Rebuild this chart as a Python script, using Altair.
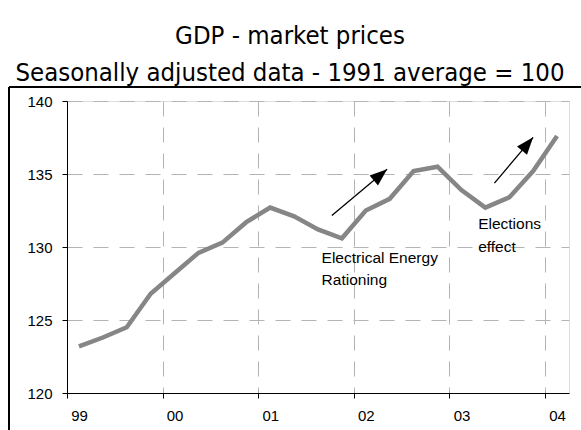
import altair as alt
import pandas as pd

# Quarterly GDP index, 1999 Q1 - 2004 Q1 (1991 average = 100)
quarters = [
    "1999Q1", "1999Q2", "1999Q3", "1999Q4",
    "2000Q1", "2000Q2", "2000Q3", "2000Q4",
    "2001Q1", "2001Q2", "2001Q3", "2001Q4",
    "2002Q1", "2002Q2", "2002Q3", "2002Q4",
    "2003Q1", "2003Q2", "2003Q3", "2003Q4",
    "2004Q1",
]
gdp = [
    123.2, 123.8, 124.5, 126.8,
    128.2, 129.6, 130.3, 131.7,
    132.7, 132.1, 131.2, 130.6,
    132.5, 133.3, 135.2, 135.5,
    133.9, 132.7, 133.4, 135.2,
    137.6,
]
year_labels = ["99", "00", "01", "02", "03", "04"]
year_starts = [-0.5, 3.5, 7.5, 11.5, 15.5, 19.5]

# Annotations (x in quarter index, y in index points)
note_text = ["Electrical Energy\nRationing", "Elections\neffect"]
note_x = [10.15, 16.7]
note_y = [128.92, 131.23]

arrow_x = [10.58, 17.38]
arrow_y = [132.16, 134.38]
arrow_x2 = [12.89, 19.0]
arrow_y2 = [135.32, 137.51]
arrow_angle = [50, 40]

series = pd.DataFrame({"idx": list(range(len(quarters))), "quarter": quarters, "gdp": gdp})
notes = pd.DataFrame({"x": note_x, "y": note_y, "text": note_text})
arrows = pd.DataFrame({"x": arrow_x, "y": arrow_y, "x2": arrow_x2, "y2": arrow_y2, "ang": arrow_angle})

label_font = "Liberation Sans, Arial, sans-serif"
title_font = "Liberation Sans Narrow, DejaVu Sans Condensed, Arial Narrow, sans-serif"

label_expr = "['" + "','".join(year_labels) + "'][round((datum.value + 0.5) / 4)]"

x_scale = alt.Scale(domain=[-0.5, 20.5], nice=False, zero=False)
y_scale = alt.Scale(domain=[120, 140], nice=False, zero=False)

x_axis = alt.Axis(
    values=year_starts, labelExpr=label_expr, labelOffset=12, labelFlush=False,
    labelOverlap=False, title=None, grid=True, gridDash=[15, 11], gridColor="#b4b4b4",
    domainColor="black", tickColor="black", tickSize=5, labelPadding=10,
    labelFontSize=15, labelFont=label_font, labelColor="black",
)
y_axis = alt.Axis(
    values=[120, 125, 130, 135, 140], title=None, grid=True, gridDash=[15, 11],
    gridColor="#b4b4b4", domainColor="black", tickColor="black", tickSize=5,
    labelPadding=10, labelFontSize=15, labelFont=label_font, labelColor="black",
)

line = alt.Chart(series).mark_line(color="#868686", strokeWidth=4.5, strokeJoin="miter").encode(
    x=alt.X("idx:Q", scale=x_scale, axis=x_axis),
    y=alt.Y("gdp:Q", scale=y_scale, axis=y_axis),
)

shafts = alt.Chart(arrows).mark_rule(color="black", strokeWidth=1.3).encode(
    x=alt.X("x:Q", scale=x_scale), y=alt.Y("y:Q", scale=y_scale),
    x2="x2:Q", y2="y2:Q",
)

heads = alt.Chart(arrows).mark_point(
    shape="M0,0L0.75,2L-0.75,2Z", filled=True, color="black", opacity=1, size=300,
).encode(
    x=alt.X("x2:Q", scale=x_scale), y=alt.Y("y2:Q", scale=y_scale),
    angle=alt.Angle("ang:Q", scale=None),
)

labels = alt.Chart(notes).mark_text(
    align="left", baseline="alphabetic", lineBreak="\n", lineHeight=22.5,
    fontSize=15.5, font=label_font, color="black",
).encode(
    x=alt.X("x:Q", scale=x_scale), y=alt.Y("y:Q", scale=y_scale), text="text:N",
)

# Outer chart-area border (left and top edges)
frame_left = alt.Chart(series).mark_rule(color="black", strokeWidth=1.2).encode(
    x=alt.value(-58), y=alt.value(-14), y2=alt.value(340),
)
frame_top = alt.Chart(series).mark_rule(color="black", strokeWidth=1.2).encode(
    x=alt.value(-58), x2=alt.value(520), y=alt.value(-14),
)

chart = alt.layer(line, shafts, heads, labels, frame_left, frame_top).properties(
    width=502,
    height=292,
    padding={"left": 67, "top": 101, "right": 12, "bottom": 37},
    autosize=alt.AutoSizeParams(type="none"),
    title=alt.TitleParams(
        text=["GDP - market prices", "Seasonally adjusted data - 1991 average = 100"],
        fontSize=25.5, lineHeight=37, font=title_font, fontWeight="normal",
        color="black", anchor="middle", dx=-28, offset=0,
    ),
).configure_view(stroke="#888888", strokeWidth=1).configure(background="white")

chart.save("out.html", embed_options={"renderer": "svg", "actions": False})
